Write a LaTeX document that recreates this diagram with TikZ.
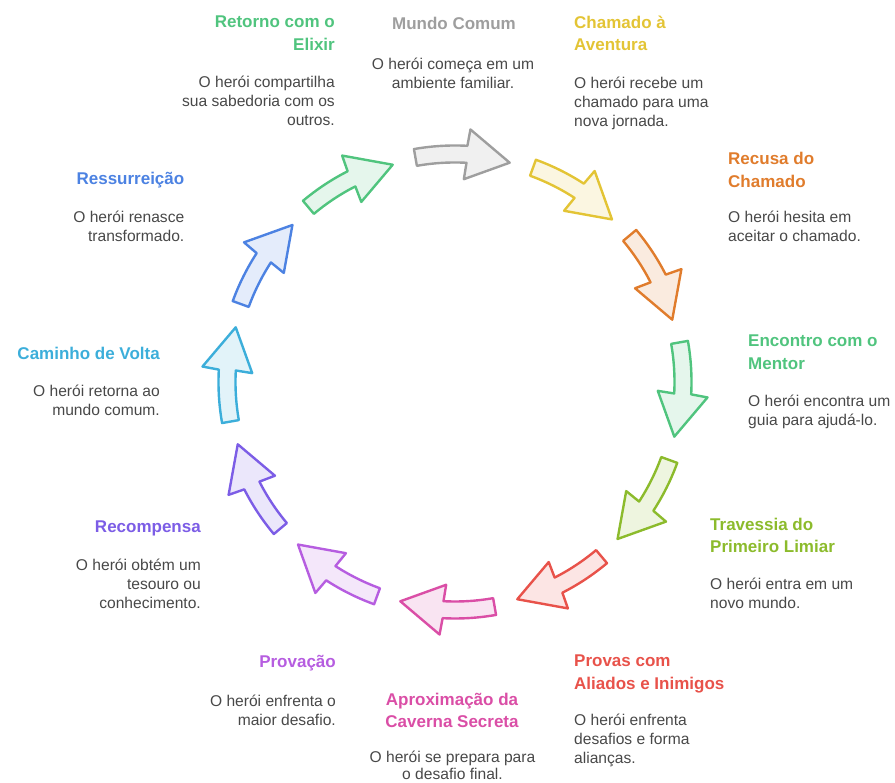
\documentclass[tikz,border=0pt]{standalone}
\usepackage{fontspec}
\setmainfont{Liberation Sans}
\usepackage{tikz}
\usetikzlibrary{calc}

\definecolor{mundo}{HTML}{9E9E9E}
\definecolor{chamado}{HTML}{E3C435}
\definecolor{recusa}{HTML}{E07C2C}
\definecolor{mentor}{HTML}{50C47E}
\definecolor{travessia}{HTML}{8CBB2C}
\definecolor{provas}{HTML}{E8524A}
\definecolor{aproximacao}{HTML}{DA4EA6}
\definecolor{provacao}{HTML}{B65DE0}
\definecolor{recompensa}{HTML}{7C5DE6}
\definecolor{caminho}{HTML}{3CAEDA}
\definecolor{ressurreicao}{HTML}{4C82E2}
\definecolor{retorno}{HTML}{50C47E}
\definecolor{desctext}{HTML}{484848}

\tikzset{
  title/.style={inner sep=0pt, font=\fontsize{17}{22.7}\selectfont\bfseries, text=#1},
  desc/.style={inner sep=0pt, font=\fontsize{15.6}{19}\selectfont, text=desctext},
  stage/.style={line width=2.4pt, draw=#1, fill=#1!15, line join=round}
}

\begin{document}
\begin{tikzpicture}[x=1pt,y=1pt]
  \useasboundingbox (0,0) rectangle (895,783);

  % arrows round the circle
  \foreach \c/\col in {88/mundo, 58/chamado, 28/recusa, -2/mentor,
      -32/travessia, -62/provas, -92/aproximacao, -122/provacao,
      -152/recompensa, 178/caminho, 148/ressurreicao, 118/retorno}{
    \draw[stage=\col, shift={(455,401)}]
      (\c+12:236.5) arc[start angle=\c+12, end angle=\c-1, radius=236.5]
      -- (\c-1.5:253) -- (\c-12:226) -- (\c-0.5:203) -- (\c-1:219.5)
      arc[start angle=\c-1, end angle=\c+12, radius=219.5] -- cycle;
  }

  % top
  \node[title=mundo, anchor=north] (mundoT) at (454,766) {Mundo Comum};
  \node[desc, anchor=north, align=center] (mundoD) at (453,725.5)
    {O herói começa em um\\ambiente familiar.};

  \node[title=chamado, anchor=north west, align=left] (chamadoT) at (574,767.5)
    {Chamado à\\Aventura};
  \node[desc, anchor=north west, align=left] (chamadoD) at (574,706.5)
    {O herói recebe um\\chamado para uma\\nova jornada.};

  \node[title=retorno, anchor=north east, align=right] (retornoT) at (335,767)
    {Retorno com o\\Elixir};
  \node[desc, anchor=north east, align=right] (retornoD) at (335,707)
    {O herói compartilha\\sua sabedoria com os\\outros.};

  % right side
  \node[title=recusa, anchor=north west, align=left] (recusaT) at (728,631)
    {Recusa do\\Chamado};
  \node[desc, anchor=north west, align=left] (recusaD) at (728,572)
    {O herói hesita em\\aceitar o chamado.};

  \node[title=mentor, anchor=north west, align=left] (mentorT) at (748,448)
    {Encontro com o\\Mentor};
  \node[desc, anchor=north west, align=left] (mentorD) at (748,388)
    {O herói encontra um\\guia para ajudá-lo.};

  \node[title=travessia, anchor=north west, align=left] (travessiaT) at (710,265.5)
    {Travessia do\\Primeiro Limiar};
  \node[desc, anchor=north west, align=left] (travessiaD) at (710,205)
    {O herói entra em um\\novo mundo.};

  % bottom
  \node[title=provas, anchor=north west, align=left] (provasT) at (574,128)
    {Provas com\\Aliados e Inimigos};
  \node[desc, anchor=north west, align=left] (provasD) at (574,69)
    {O herói enfrenta\\desafios e forma\\alianças.};

  \node[title=aproximacao, anchor=north, align=center] (aproxT) at (452,90.5)
    {Aproximação da\\Caverna Secreta};
  \node[desc, anchor=north, align=center, font=\fontsize{15.6}{17.8}\selectfont]
    (aproxD) at (452.5,32.5) {O herói se prepara para\\o desafio final.};

  \node[title=provacao, anchor=north east] (provacaoT) at (336,128) {Provação};
  \node[desc, anchor=north east, align=right] (provacaoD) at (336,88)
    {O herói enfrenta o\\maior desafio.};

  % left side
  \node[title=recompensa, anchor=north east] (recompensaT) at (201,262) {Recompensa};
  \node[desc, anchor=north east, align=right] (recompensaD) at (201,224)
    {O herói obtém um\\tesouro ou\\conhecimento.};

  \node[title=caminho, anchor=north east] (caminhoT) at (160,436) {Caminho de Volta};
  \node[desc, anchor=north east, align=right] (caminhoD) at (160,398)
    {O herói retorna ao\\mundo comum.};

  \node[title=ressurreicao, anchor=north east] (ressurreicaoT) at (184.5,611) {Ressurreição};
  \node[desc, anchor=north east, align=right] (ressurreicaoD) at (184.5,572)
    {O herói renasce\\transformado.};
\end{tikzpicture}
\end{document}
